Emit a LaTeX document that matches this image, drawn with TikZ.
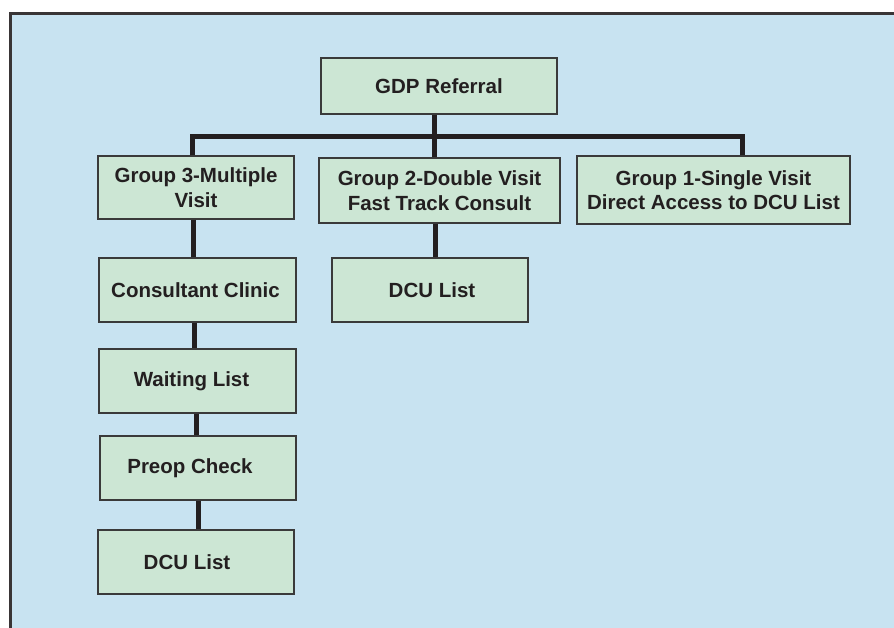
\documentclass[tikz,border=0pt]{standalone}
\usepackage{fontspec}
\setmainfont{Liberation Sans}
\definecolor{bgblue}{HTML}{C8E3F1}
\definecolor{boxgreen}{HTML}{CCE6D4}
\definecolor{ink}{HTML}{231F20}
\definecolor{edge}{HTML}{3A3A3A}
\begin{document}
\begin{tikzpicture}[x=1pt,y=-1pt,
  box/.style={draw=edge, line width=1.2pt, fill=boxgreen, text=ink, inner sep=0pt,
    align=center, font=\fontsize{20.5}{24.5}\selectfont\bfseries},
  conn/.style={draw=ink, line width=5pt, line join=miter}]
\useasboundingbox (0,0) rectangle (894,628);
\clip (0,0) rectangle (894,628);
\fill[white] (0,0) rectangle (894,628);
\draw[fill=bgblue, draw=ink!90, line width=3pt] (10.7,13.7) rectangle (910,650);

\node[box, minimum width=236pt, minimum height=56pt] (gdp) at (439,86) {GDP Referral};
\node[box, minimum width=196pt, minimum height=63pt] (g3) at (196,187.5) {Group 3-Multiple\\Visit};
\node[box, minimum width=241pt, minimum height=65pt] (g2) at (439.5,190.5) {Group 2-Double Visit\\Fast Track Consult};
\node[box, minimum width=273pt, minimum height=68pt] (g1) at (713.5,190) {Group 1-Single Visit\\Direct Access to DCU List};
\node[box, minimum width=197pt, minimum height=64pt] (cc) at (197.5,290) {Consultant Clinic\hspace*{4pt}};
\node[box, minimum width=197pt, minimum height=64pt] (wl) at (197.5,381) {Waiting List\hspace*{12pt}};
\node[box, minimum width=196pt, minimum height=64pt] (pc) at (198,468) {Preop Check\hspace*{16pt}};
\node[box, minimum width=196pt, minimum height=64pt] (dl) at (196,562) {DCU List\hspace*{18pt}};
\node[box, minimum width=196pt, minimum height=64pt] (d2) at (430,290) {DCU List\hspace*{-4pt}};

\coordinate (bus) at ([xshift=-5pt]gdp.south |- 0,137);
% trunk from GDP Referral
\draw[conn] ([xshift=-5pt]gdp.south) -- ([xshift=-5pt]gdp.south |- g2.north);
% horizontal bus to group 3 and group 1
\draw[conn] ([xshift=-4pt]g3.north) |- (bus) -| ([xshift=28.5pt]g1.north);
% left column
\draw[conn] ([xshift=-3pt]g3.south) -- ([xshift=-3pt]g3.south |- cc.north);
\draw[conn] ([xshift=-3.5pt]cc.south) -- ([xshift=-3.5pt]cc.south |- wl.north);
\draw[conn] ([xshift=-1.5pt]wl.south) -- ([xshift=-1.5pt]wl.south |- pc.north);
\draw[conn] ([xshift=0pt]pc.south) -- ([xshift=0pt]pc.south |- dl.north);
% middle column
\draw[conn] ([xshift=5pt]d2.north |- g2.south) -- ([xshift=5pt]d2.north);
\end{tikzpicture}
\end{document}
